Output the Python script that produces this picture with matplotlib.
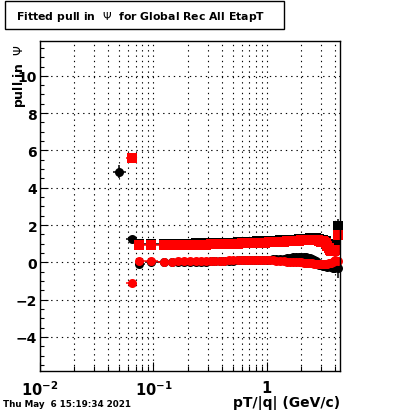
import numpy as np
import matplotlib
matplotlib.use("Agg")
import matplotlib.pyplot as plt
from matplotlib.patches import Rectangle

plt.rcParams['font.family'] = ['DejaVu Sans']
plt.rcParams['mathtext.fontset'] = 'dejavusans'

nan = float('nan')

# pT/|q| bin centres (GeV/c)
pt = [0.05, 0.065, 0.075, 0.095, 0.125, 0.145, 0.165, 0.185,
      0.21, 0.235, 0.26, 0.29, 0.32, 0.35, 0.385, 0.42,
      0.46, 0.5, 0.55, 0.6, 0.65, 0.7, 0.76, 0.82,
      0.89, 0.96, 1.04, 1.12, 1.2, 1.3, 1.4, 1.5,
      1.6, 1.7, 1.8, 1.9,
      2.0, 2.1, 2.2, 2.3, 2.4, 2.5, 2.6, 2.7, 2.8, 2.9,
      3.0, 3.1, 3.2, 3.3, 3.4, 3.5, 3.6, 3.7, 3.8, 3.9,
      4.0, 4.2]

# pull width (squares)
width_black = [nan, nan,
               0.97, 0.97, 0.98, 0.99, 0.99, 0.99,
               1.0, 1.01, 1.01, 1.02, 1.02, 1.03, 1.04, 1.05,
               1.06, 1.06, 1.07, 1.08, 1.09, 1.1, 1.11, 1.12,
               1.12, 1.13, 1.14, 1.15, 1.16, 1.17, 1.18, 1.19,
               1.2, 1.21, 1.22, 1.23,
               1.24, 1.25, 1.26, 1.27, 1.28, 1.29, 1.3, 1.28, 1.26, 1.24,
               1.2, 1.2, 1.16, 1.12, 1.0, 0.95, 0.92, 0.9, 0.92, 0.95,
               1.0, 1.95]
width_red = [nan, 5.6,
             0.93, 0.93, 0.93, 0.94, 0.94, 0.93,
             0.94, 0.95, 0.95, 0.95, 0.96, 0.96, 0.97, 0.98,
             0.99, 1.0, 1.0, 1.01, 1.02, 1.03, 1.04, 1.05,
             1.06, 1.06, 1.07, 1.08, 1.09, 1.1, 1.11, 1.12,
             1.13, 1.14, 1.15, 1.16,
             1.17, 1.18, 1.19, 1.2, 1.21, 1.22, 1.22, 1.21, 1.18, 1.15,
             1.1, 1.12, 1.08, 1.05, 0.88, 0.75, 0.68, 0.62, 0.6, 0.62,
             0.65, 1.45]

# pull mean (circles)
mean_black = [4.85, 1.25,
              -0.08, 0.02, 0.0, 0.0, 0.01, 0.02,
              0.02, 0.03, 0.03, 0.04, 0.05, 0.05, 0.06, 0.07,
              0.08, 0.09, 0.1, 0.11, 0.12, 0.13, 0.13, 0.14,
              0.14, 0.14, 0.15, 0.16, 0.17, 0.18, 0.2, 0.22,
              0.24, 0.26, 0.27, 0.28,
              0.28, 0.28, 0.27, 0.25, 0.22, 0.18, 0.12, 0.05, -0.05, -0.12,
              -0.16, -0.18, -0.2, -0.22, -0.24, -0.22, -0.2, -0.25, -0.3, -0.28,
              -0.25, -0.3]
mean_red = [nan, -1.1,
            0.08, 0.06, 0.04, 0.04, 0.05, 0.05,
            0.05, 0.06, 0.06, 0.06, 0.07, 0.07, 0.08, 0.09,
            0.1, 0.11, 0.12, 0.13, 0.14, 0.15, 0.15, 0.15,
            0.14, 0.13, 0.12, 0.1, 0.08, 0.07, 0.05, 0.04,
            0.03, 0.02, 0.01, 0.0,
            -0.01, -0.02, -0.03, -0.04, -0.05, -0.06, -0.07, -0.08, -0.08, -0.08,
            -0.08, -0.07, -0.08, -0.09, -0.08, -0.06, -0.05, -0.03, 0.0, 0.05,
            0.15, 0.05]

# points with visible vertical errors
err_black_x = [0.05, 4.0, 4.2, 4.2]
err_black_y = [4.85, -0.25, 1.95, -0.3]
err_black = [0.35, 0.3, 0.35, 0.55]
err_red_x = [4.0, 4.2]
err_red_y = [0.15, 0.05]
err_red = [0.35, 0.25]

# bin edges for the horizontal error bars
x = np.array(pt)
mid = np.sqrt(x[:-1] * x[1:])
lo = np.concatenate([[x[0] ** 2 / mid[0]], mid])
hi = np.concatenate([mid, [x[-1] ** 2 / mid[-1]]])
xerr = [x - lo, hi - x]

fig = plt.figure(figsize=(4.0, 4.14), dpi=100)
ax = fig.add_axes([0.1, 0.1014, 0.75, 0.7972])

kw = dict(ls='none', ms=6.5, mew=0, elinewidth=1.1, capsize=0, clip_on=False)
ax.errorbar(x, width_black, xerr=xerr, fmt='s', color='black', **kw)
ax.errorbar(x, mean_black, xerr=xerr, fmt='o', color='black', **kw)
ax.errorbar(err_black_x, err_black_y, yerr=err_black, fmt='none', ecolor='black', elinewidth=1.1)
ax.errorbar(x, width_red, xerr=xerr, fmt='s', color='red', **kw)
ax.errorbar(x, mean_red, xerr=xerr, fmt='o', color='red', **kw)
ax.errorbar(err_red_x, err_red_y, yerr=err_red, fmt='none', ecolor='red', elinewidth=1.1)

ax.set_xscale('log')
ax.set_xlim(0.01, 4.4)
ax.set_ylim(-5.83, 11.87)

ax.set_yticks([-4, -2, 0, 2, 4, 6, 8, 10])
ax.set_yticks(np.arange(-5.5, 12, 0.5), minor=True)
ax.set_xticks([0.01, 0.1, 1])
ax.set_xticklabels([r'$\mathbf{10^{-2}}$', r'$\mathbf{10^{-1}}$', r'$\mathbf{1}$'])
ax.set_xticks([0.02, 0.03, 0.04, 0.05, 0.06, 0.07, 0.08, 0.09,
               0.2, 0.3, 0.4, 0.5, 0.6, 0.7, 0.8, 0.9, 2, 3, 4], minor=True)
ax.xaxis.set_minor_formatter(matplotlib.ticker.NullFormatter())

ax.tick_params(axis='y', which='major', direction='in', length=6, width=0.8,
               labelsize=10, pad=2)
ax.tick_params(axis='y', which='minor', direction='in', length=3.2, width=0.8)
ax.tick_params(axis='x', which='major', direction='in', length=6.5, width=0.8,
               labelsize=10.5, pad=6)
ax.tick_params(axis='x', which='minor', direction='in', length=3.5, width=0.8)
for lab in ax.get_yticklabels():
    lab.set_fontweight('bold')

ax.grid(True, which='major', axis='both', color='black', lw=0.8, dashes=(1.2, 3.6))
ax.grid(True, which='minor', axis='x', color='black', lw=0.8, dashes=(1.2, 3.6))
ax.set_axisbelow(True)
for s in ax.spines.values():
    s.set_linewidth(1.0)

# title box
fig.patches.append(Rectangle((5 / 400, 1 - 30 / 414), 279 / 400, 28 / 414,
                             transform=fig.transFigure, fill=False,
                             edgecolor='black', lw=1.0))
fig.text(141 / 400, 1 - 17 / 414, r'Fitted pull in  $\Psi$  for Global Rec All EtapT',
         ha='center', va='center', fontsize=7.8, fontweight='bold')

fig.text(11 / 400, 1 - 44 / 414, r'pull in  $\Psi$', rotation=90,
         ha='left', va='top', fontsize=9, fontweight='bold')
fig.text(340 / 400, 1 - 410 / 414, 'pT/|q| (GeV/c)', ha='right', va='bottom',
         fontsize=10, fontweight='bold')
fig.text(3 / 400, 1 - 409 / 414, 'Thu May  6 15:19:34 2021', ha='left', va='bottom',
         fontsize=6.3, fontweight='bold')

fig.savefig('out.png', dpi=100)
